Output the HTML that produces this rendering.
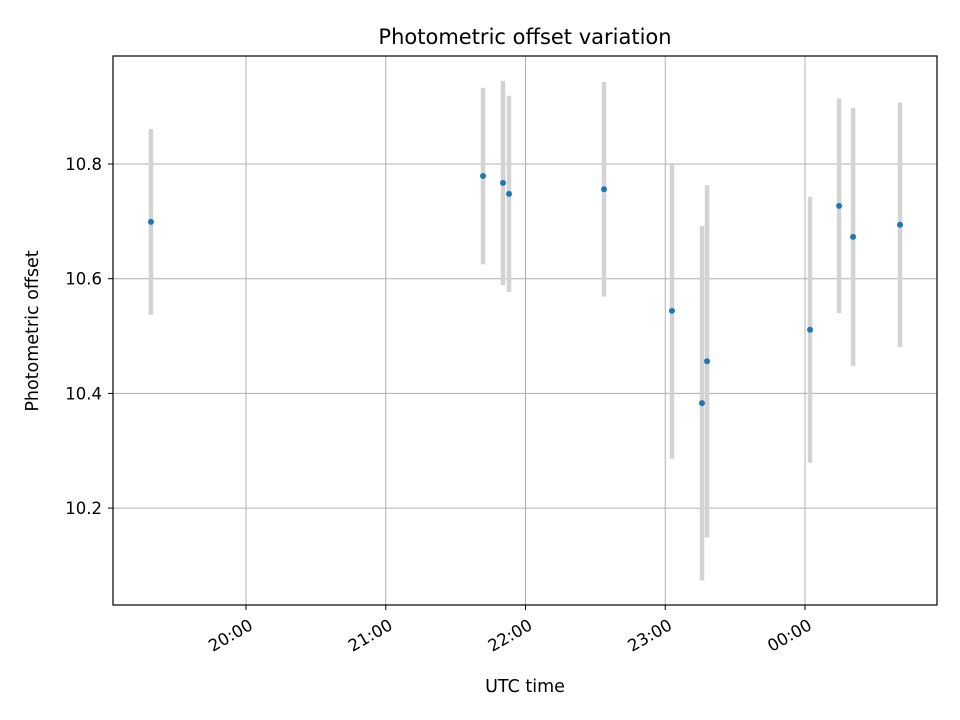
<!DOCTYPE html>
<html><head><meta charset="utf-8"><style>
body{margin:0;background:#fff;}
svg{display:block;font-family:"DejaVu Sans","Liberation Sans",sans-serif;}
</style></head><body>
<svg id="chart" width="960" height="720">
<rect width="960" height="720" fill="#fff"/>
<g id="grid"></g>
<g id="bars"></g>
<g id="pts"></g>
<rect x="113" y="56" width="824" height="549" fill="none" stroke="#000" stroke-width="1.2"/>
<g id="axes"></g>
<text x="525" y="44" text-anchor="middle" font-size="21">Photometric offset variation</text>
<text x="525" y="692" text-anchor="middle" font-size="17.5">UTC time</text>
<text transform="translate(38,331) rotate(-90)" text-anchor="middle" font-size="17.5">Photometric offset</text>
</svg>
<script>
// hours since 19:00 UTC
const times = [0.320, 2.696, 2.839, 2.882, 3.562, 4.048, 4.263, 4.299, 5.036, 5.244, 5.344, 5.680];
const offsets = [10.699, 10.779, 10.767, 10.748, 10.756, 10.544, 10.383, 10.456, 10.511, 10.727, 10.673, 10.694];
const errors = [0.162, 0.154, 0.178, 0.171, 0.187, 0.258, 0.309, 0.307, 0.232, 0.187, 0.225, 0.213];
const xTicks = [1, 2, 3, 4, 5];
const xTickLabels = ["20:00", "21:00", "22:00", "23:00", "00:00"];
const yTicks = [10.2, 10.4, 10.6, 10.8];
const yTickLabels = ["10.2", "10.4", "10.6", "10.8"];

const L=113,R=937,T=56,B=605;
const xs = h => 106.25 + 139.75*h;
const ys = v => 164 - (v-10.8)*573.5;
const NS="http://www.w3.org/2000/svg";
function mk(tag, attrs, parent){const e=document.createElementNS(NS,tag);for(const k in attrs)e.setAttribute(k,attrs[k]);parent.appendChild(e);return e;}
const grid=document.getElementById('grid'),axes=document.getElementById('axes');
xTicks.forEach((t,i)=>{
  const x=xs(t);
  const g=mk('line',{x1:x,x2:x,y1:T,y2:B,stroke:'#b0b0b0','stroke-width':1},grid);
  
  
  const tk=mk('line',{x1:x,x2:x,y1:B,y2:B+5,stroke:'#000','stroke-width':1},axes);
  
  
  const tx=mk('text',{transform:`translate(${x+2},${B+13}) rotate(-30)`,'text-anchor':'end','font-size':16.5,'dominant-baseline':'hanging'},axes);
  tx.textContent=xTickLabels[i];
  
  
});
yTicks.forEach((t,i)=>{
  const y=ys(t);
  const g=mk('line',{x1:L,x2:R,y1:y,y2:y,stroke:'#b0b0b0','stroke-width':1},grid);
  
  
  const tk=mk('line',{x1:L-5,x2:L,y1:y,y2:y,stroke:'#000','stroke-width':1},axes);
  
  
  const tx=mk('text',{x:L-11,y:y+6,'text-anchor':'end','font-size':16.5},axes);
  tx.textContent=yTickLabels[i];
  
  
});
const bars=document.getElementById('bars'),pts=document.getElementById('pts');
times.forEach((t,i)=>{
  const x=xs(t);
  const b=mk('line',{x1:x,x2:x,y1:ys(offsets[i]+errors[i]),y2:ys(offsets[i]-errors[i]),stroke:'#d3d3d3','stroke-width':4.5},bars);
  
  
  const c=mk('circle',{cx:x,cy:ys(offsets[i]),r:3,fill:'#1f77b4'},pts);
  
  
});
</script>
</body></html>
